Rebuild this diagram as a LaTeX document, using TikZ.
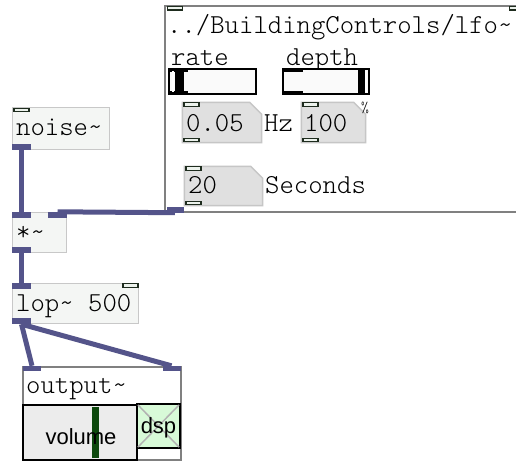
\documentclass[tikz,border=0pt]{standalone}
\usepackage{fontspec}
\setmainfont{Liberation Sans}
\setmonofont{Latin Modern Mono Light}
\definecolor{cable}{RGB}{84,84,138}
\definecolor{gopgray}{RGB}{128,128,128}
\definecolor{objborder}{RGB}{200,200,200}
\definecolor{objfill}{RGB}{244,246,244}
\definecolor{numfill}{RGB}{224,224,224}
\definecolor{numborder}{RGB}{198,198,198}
\definecolor{portdark}{RGB}{30,44,30}
\definecolor{portfill}{RGB}{236,242,236}
\definecolor{dspfill}{RGB}{216,250,216}
\definecolor{volgreen}{RGB}{12,72,12}
\definecolor{volfill}{RGB}{236,236,236}
\definecolor{slidfill}{RGB}{250,250,250}
\newcommand\chamferbox[1]{\draw[numboxline] (#1.north west) -- ([xshift=-12pt]#1.north east) -- ([yshift=-12pt]#1.north east) -- (#1.south east) -- (#1.south west) -- cycle;}
\begin{document}
\begin{tikzpicture}[x=1pt,y=-1pt,
  objbox/.style={draw=objborder, fill=objfill, line width=1.5pt, inner sep=0, rectangle},
  gopbox/.style={draw=gopgray, fill=white, line width=2pt, inner sep=0, rectangle},
  numslot/.style={draw=none, inner sep=0, rectangle},
  numboxline/.style={draw=numborder, fill=numfill, line width=1.5pt, line join=miter},
  sigport/.style={fill=cable, draw=none, inner sep=0, rectangle, minimum width=19pt, minimum height=6pt},
  ctlport/.style={fill=portfill, draw=portdark, line width=1.3pt, inner sep=0, rectangle, minimum width=15pt, minimum height=3.5pt},
  cable/.style={draw=cable, line width=5pt},
  mono/.style={font=\ttfamily\fontsize{27.4}{27.4}\selectfont, inner sep=0, anchor=base west},
  sans/.style={font=\fontsize{22}{22}\selectfont, inner sep=0, anchor=base},
  slider/.style={draw=black, fill=slidfill, line width=2pt, inner sep=0, rectangle},
  knob/.style={fill=black, draw=none, inner sep=0, rectangle},
]
\useasboundingbox (0,0) rectangle (516,461);
\clip (0,0) rectangle (516,461);

% ---- lfo graph-on-parent box
\node[gopbox, minimum width=365pt, minimum height=206pt] (lfo) at (347.5,109) {};
\node[ctlport] (lfoin1) at (175,8.3) {};
\node[ctlport] (lfoin2) at (517,8.3) {};
\node[sigport, minimum width=17pt] (lfoout) at (175,209.5) {};
\node[mono] (lfotitle) at (167,33) {../BuildingControls/lfo\char`~};

\node[mono] (ratelbl) at (171,65) {rate};
\node[mono] (depthlbl) at (286,65) {depth};

% rate slider
\node[slider, minimum width=87pt, minimum height=25pt] (rateslider) at (212.5,81.5) {};
\node[knob, minimum width=19pt, minimum height=4pt] (ratetop) at (178.5,70) {};
\node[knob, minimum width=19pt, minimum height=4pt] (ratebot) at (178.5,93) {};
\node[knob, minimum width=9pt, minimum height=25pt] (rateknob) at (179.5,81.5) {};
\node[fill=white, inner sep=0, minimum width=2.5pt, minimum height=21pt] (rateline) at (173,81.5) {};

% depth slider
\node[slider, minimum width=86pt, minimum height=25pt] (depthslider) at (326,81.5) {};
\node[knob, minimum width=20pt, minimum height=4pt] (depthtop) at (293,70) {};
\node[knob, minimum width=20pt, minimum height=4pt] (depthbot) at (293,93) {};
\node[knob, minimum width=7pt, minimum height=25pt] (depthknob) at (361.5,81.5) {};
\node[fill=white, inner sep=0, minimum width=2pt, minimum height=21pt] (depthline) at (366.2,81.5) {};

% number boxes
\node[numslot, minimum width=79pt, minimum height=40pt] (ratenum) at (222,122.5) {};
\chamferbox{ratenum}
\node[ctlport] (ratenumin) at (191.5,104.5) {};
\node[ctlport] (ratenumout) at (191.5,140) {};
\node[mono] (ratenumtxt) at (186,131) {0.05};
\node[mono] (hz) at (264,131) {Hz};

\node[numslot, minimum width=64pt, minimum height=40pt] (depthnum) at (333.5,122.5) {};
\chamferbox{depthnum}
\node[ctlport] (depthnumin) at (310.5,104.5) {};
\node[ctlport] (depthnumout) at (310.5,140) {};
\node[mono] (depthnumtxt) at (304,131) {100};
\node[font=\ttfamily\fontsize{15}{15}\selectfont, inner sep=0] (pct) at (365,108) {\%};

\node[numslot, minimum width=78pt, minimum height=39pt] (secnum) at (223.5,186) {};
\chamferbox{secnum}
\node[ctlport] (secnumin) at (193.5,168.5) {};
\node[ctlport] (secnumout) at (193.5,203) {};
\node[mono] (secnumtxt) at (188,193) {20};
\node[mono] (seconds) at (265,193) {Seconds};

% ---- noise~
\node[objbox, minimum width=97pt, minimum height=42pt] (noise) at (61,128.5) {};
\node[ctlport] (noisein) at (21.5,110) {};
\node[sigport] (noiseout) at (21.5,146.5) {};
\node[mono] (noisetxt) at (16,135) {noise\char`~};

% ---- *~
\node[objbox, minimum width=54pt, minimum height=40pt] (mul) at (39.5,232.5) {};
\node[sigport] (mulinL) at (21.5,215) {};
\node[sigport] (mulinR) at (57.5,215) {};
\node[sigport] (mulout) at (21.5,250) {};
\node[mono] (multxt) at (16,240) {*\char`~};

% ---- lop~ 500
\node[objbox, minimum width=126pt, minimum height=40pt] (lop) at (75.5,303.5) {};
\node[sigport] (lopinL) at (21.5,286) {};
\node[ctlport] (lopinR) at (130.5,285.5) {};
\node[sigport] (lopout) at (21.5,321) {};
\node[mono] (loptxt) at (16,311) {lop\char`~{} 500};

% ---- output~
\node[gopbox, minimum width=158pt, minimum height=93pt] (out) at (101.5,413) {};
\node[sigport, minimum width=18pt, minimum height=5pt] (outinL) at (32,368.5) {};
\node[sigport, minimum width=18pt, minimum height=5pt] (outinR) at (171.5,368.5) {};
\node[mono] (outtxt) at (26,393) {output\char`~};
\node[draw=black, fill=volfill, line width=2pt, inner sep=0, rectangle, minimum width=114pt, minimum height=55pt] (vol) at (80,432) {};
\node[fill=volgreen, inner sep=0, minimum width=7pt, minimum height=51pt] (volbar) at (95.5,432.5) {};
\node[sans] (voltxt) at (81,444) {volume};
\node[draw=black, fill=dspfill, line width=2pt, inner sep=0, rectangle, minimum width=43pt, minimum height=44pt] (dsp) at (158.5,426) {};
\draw[gray!60, line width=1.5pt] ([shift={(2pt,-2pt)}]dsp.north west) -- ([shift={(-2pt,2pt)}]dsp.south east);
\draw[gray!60, line width=1.5pt] ([shift={(-2pt,-2pt)}]dsp.north east) -- ([shift={(2pt,2pt)}]dsp.south west);
\node[sans] (dsptxt) at (158.5,433) {dsp};

% ---- cables
\draw[cable] (noiseout.south) -- (mulinL.north);
\draw[cable] (lfoout.south) -- (mulinR.north);
\draw[cable] (mulout.south) -- (lopinL.north);
\draw[cable] (lopout.south) -- (outinL.north);
\draw[cable] (lopout.south) -- (outinR.north);
\end{tikzpicture}
\end{document}
